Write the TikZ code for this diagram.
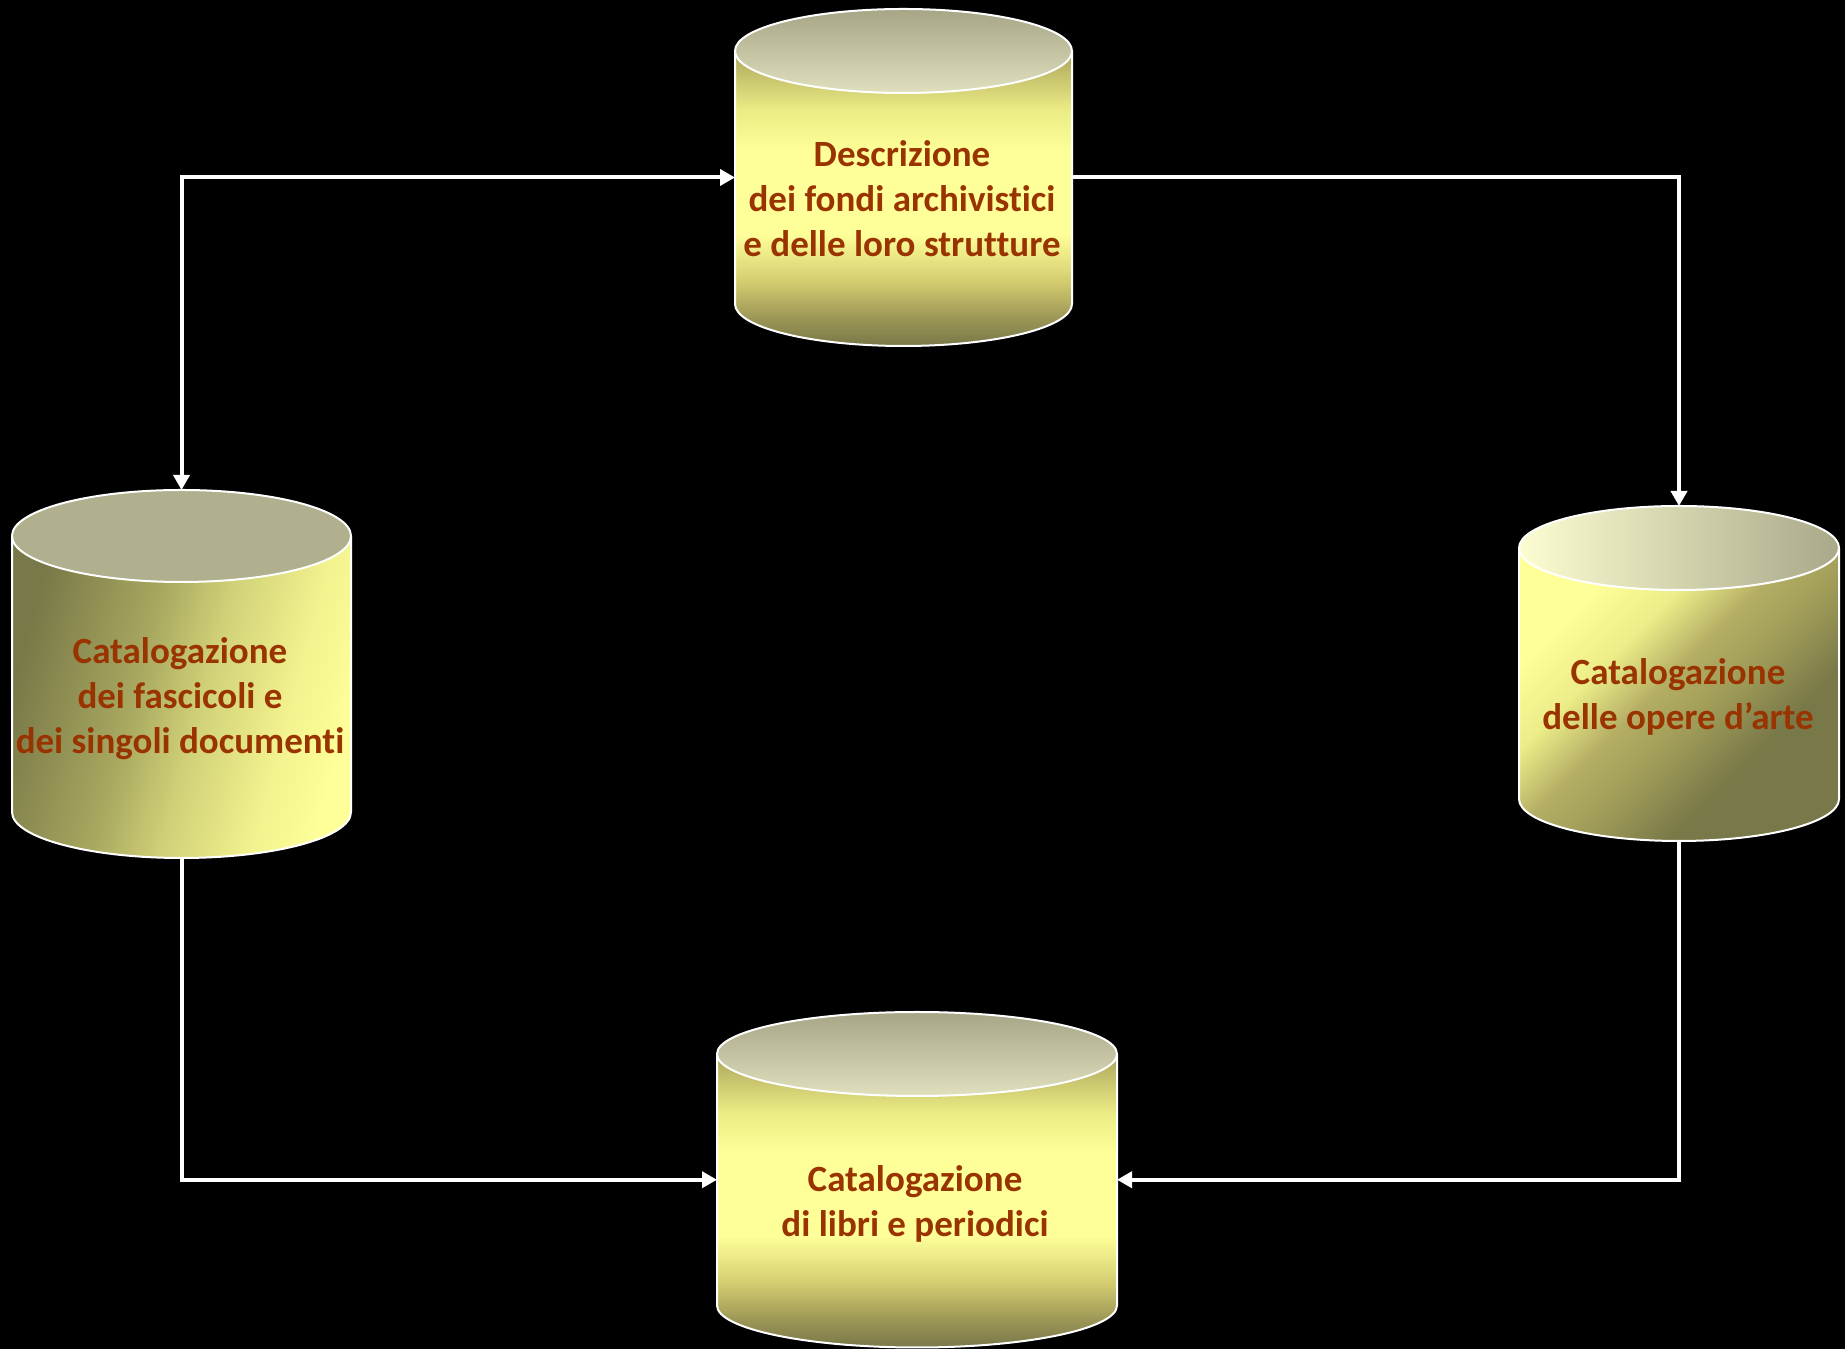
\documentclass[tikz,border=0pt]{standalone}
\usepackage{fontspec}
\setmainfont{Carlito}[Ligatures=NoCommon]
\usetikzlibrary{arrows.meta}

% palette
\definecolor{hay}{HTML}{FFFF99}
\definecolor{rust}{HTML}{993300}
\definecolor{olvA}{HTML}{787848}
\definecolor{olvB}{HTML}{9A9455}
\definecolor{olvC}{HTML}{D4CD70}
\definecolor{olvD}{HTML}{ECEC85}
\definecolor{olvE}{HTML}{AAA45A}
\definecolor{lidDark}{HTML}{A6A686}
\definecolor{lidLight}{HTML}{E0DFBE}
\definecolor{lidFlat}{HTML}{B0B08F}
\definecolor{lidPale}{HTML}{FDFDD2}
\definecolor{lidGrey}{HTML}{A9A98A}
\definecolor{sideA}{HTML}{A8A860}
\definecolor{sideB}{HTML}{D0D078}
\definecolor{sideC}{HTML}{F2F28E}
\definecolor{sideD}{HTML}{ECEC88}
\definecolor{sideE}{HTML}{B4AE64}
\definecolor{sideF}{HTML}{A09C58}

% side of an upright drum: dark rim, bright band in the middle
\pgfdeclareverticalshading{drumside}{100bp}{%
  color(0bp)=(olvA); color(25bp)=(olvA); color(29.5bp)=(olvB);
  color(36bp)=(olvC); color(44bp)=(hay); color(58bp)=(hay);
  color(65bp)=(olvD); color(75bp)=(olvE); color(100bp)=(olvE)}

% side lit from the right
\pgfdeclarehorizontalshading{litright}{100bp}{%
  color(0bp)=(olvA); color(25bp)=(olvA); color(43bp)=(sideA);
  color(53bp)=(sideB); color(66bp)=(sideC); color(75bp)=(hay);
  color(100bp)=(hay)}

% side lit from the upper left
\pgfdeclarehorizontalshading{litleft}{100bp}{%
  color(0bp)=(hay); color(28bp)=(hay); color(38bp)=(sideD);
  color(47bp)=(sideE); color(55bp)=(sideF); color(66bp)=(olvA);
  color(100bp)=(olvA)}

\tikzset{
  rim/.style={draw=white, line width=2pt},
  tankbox/.style={rectangle, inner sep=0pt, outer sep=0pt},
  caption/.style={text=rust, align=center,
    font=\fontsize{37}{45}\selectfont\bfseries},
  link/.style={draw=white, line width=4pt, arrows={-Triangle[length=15pt,width=16pt]}},
  twoway/.style={arrows={Triangle[length=15pt,width=16pt]-Triangle[length=15pt,width=16pt]}},
}

% \tank{name}{left x}{right x}{top y}{bottom y}{lid half height}{side painting}{lid fill}
\newcommand{\tank}[8]{%
  \pgfmathsetmacro{\tankrx}{(#3-#2)/2}%
  \pgfmathsetmacro{\tankcx}{(#2+#3)/2}%
  \pgfmathsetmacro{\tankcy}{(#4+#5)/2}%
  \pgfmathsetmacro{\tankw}{#3-#2}%
  \pgfmathsetmacro{\tankh}{#4-#5}%
  \begin{scope}
    \fill[olvA] (#2,#4-#6) -- (#2,#5+#6)
      arc[start angle=180, end angle=360, x radius=\tankrx, y radius=#6]
      -- (#3,#4-#6) -- cycle;
    \clip (#2,#4-#6) -- (#2,#5+#6)
      arc[start angle=180, end angle=360, x radius=\tankrx, y radius=#6]
      -- (#3,#4-#6) -- cycle;
    #7
  \end{scope}
  \draw[rim] (#2,#4-#6) -- (#2,#5+#6)
    arc[start angle=180, end angle=360, x radius=\tankrx, y radius=#6]
    -- (#3,#4-#6);
  \path[#8, rim] (\tankcx,#4-#6) ellipse[x radius=\tankrx, y radius=#6];
  \node[tankbox, minimum width=\tankw pt, minimum height=\tankh pt]
    (#1) at (\tankcx,\tankcy) {};
}

\begin{document}
\begin{tikzpicture}[x=1pt, y=1pt]
\fill[black] (0,0) rectangle (1845,1349);
\useasboundingbox (0,0) rectangle (1845,1349);

% the four drums
\tank{desc}{735}{1072}{1340}{1003}{42}
  {\shade[shading=drumside] (735,1003) rectangle (1072,1298);}
  {top color=lidDark, bottom color=lidLight}
\tank{fasc}{12}{351}{859}{491}{46}
  {\shade[shading=litright, shading angle=-15] (12,491) rectangle (351,813);}
  {fill=lidFlat}
\tank{arte}{1519}{1839}{843}{508}{42}
  {\shade[shading=litleft, shading angle=-45] (1519,508) rectangle (1839,801);}
  {left color=lidPale, right color=lidGrey}
\tank{libri}{717}{1117}{337}{1.5}{42}
  {\shade[shading=drumside] (717,1.5) rectangle (1117,295);}
  {top color=lidDark, bottom color=lidLight}

% labels
\node[caption] (desc-t) at (902,1150)
  {Descrizione\\dei fondi archivistici\\e delle loro strutture};
\node[caption] (fasc-t) at (180,650)
  {Catalogazione\\dei fascicoli e\\dei singoli documenti};
\node[caption] (arte-t) at (1678,652.5)
  {Catalogazione\\delle opere d’arte};
\node[caption] (libri-t) at (915,145.5)
  {Catalogazione\\di libri e periodici};

% connectors
\draw[link, twoway] (desc.west) -| (fasc.north);
\draw[link] (desc.east) -| (arte.north);
\draw[link] (fasc.south) |- (libri.west);
\draw[link] (arte.south) |- (libri.east);
\end{tikzpicture}
\end{document}
